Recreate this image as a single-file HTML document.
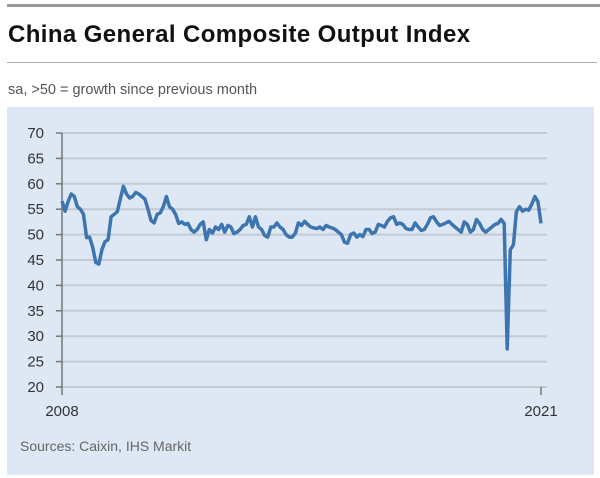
<!DOCTYPE html>
<html><head><meta charset="utf-8"><style>
body{margin:0;width:600px;height:478px;background:#fff;font-family:"Liberation Sans",sans-serif;position:relative;overflow:hidden}
.a{position:absolute}
</style></head><body>
<div class="a" style="left:7px;top:4px;width:593px;height:3px;background:#999"></div>
<div class="a" style="left:8px;top:21px;font-size:24px;font-weight:bold;color:#111;letter-spacing:0.4px">China General Composite Output Index</div>
<div class="a" style="left:7px;top:62px;width:590px;height:1px;background:#aaa"></div>
<div class="a" style="left:8px;top:82px;font-size:14.5px;color:#555">sa, &gt;50 = growth since previous month</div>
<div class="a" style="left:7px;top:107px;width:587px;height:368px;background:#dde8f4"></div>
<svg class="a" style="left:0;top:0" width="600" height="478">
<g id="grid"></g><g id="axes"></g><path id="line" fill="none" stroke="#3d75b0" stroke-width="3.5" stroke-linejoin="round"></path>
<text x="20" y="451" font-size="14" fill="#666">Sources: Caixin, IHS Markit</text>
</svg>
<script>
const yTicks=[20,25,30,35,40,45,50,55,60,65,70];
const xLabels=["2008","2021"];
const values=[56.6,54.6,56.5,58,57.5,55.5,55,54,49.4,49.5,47.5,44.5,44.2,47,48.6,49,53.5,54,54.5,57,59.5,58,57.2,57.5,58.3,58,57.5,57,55,52.8,52.3,54,54.3,55.5,57.5,55.5,55,54,52.2,52.5,52,52.2,51,50.5,51,52,52.5,49,51,50.3,51.5,51,52,50.5,51.8,51.5,50.2,50.5,51,51.8,52,53.5,51.5,53.5,51.5,51,49.8,49.5,51.5,51.5,52.3,51.5,51,50,49.5,49.5,50.3,52.3,51.8,52.6,52,51.5,51.3,51.2,51.5,51,51.8,51.5,51.3,51,50.5,50,48.5,48.3,50,50.3,49.5,50,49.6,51,51,50.2,50.5,52,51.8,51.5,52.6,53.3,53.5,52,52.3,52,51.2,51,51,52.3,51.5,50.8,51,52,53.3,53.5,52.5,51.8,52,52.3,52.6,52,51.5,51,50.5,52.5,52,50.5,51,53,52.2,51,50.5,51,51.5,52,52.2,53,52.2,27.5,47,48,54.5,55.5,54.6,55,54.8,56,57.5,56.5,52.2];
const NS='http://www.w3.org/2000/svg';
const x0=62,x1=541,yTop=133,yBot=387;
const xs=i=>x0+(x1-x0)*i/(values.length-1);
const ys=v=>yBot-(v-20)/50*(yBot-yTop);
const grid=document.getElementById('grid'),axes=document.getElementById('axes');
function mk(t,a,p){const e=document.createElementNS(NS,t);for(const k in a)e.setAttribute(k,a[k]);p.appendChild(e);return e;}
yTicks.forEach(v=>{
 const g=mk('line',{x1:x0,x2:547,y1:ys(v),y2:ys(v),stroke:'#c4cad2','stroke-width':2},grid);
 
 
 const tk=mk('line',{x1:x0-6,x2:x0,y1:ys(v),y2:ys(v),stroke:'#777','stroke-width':1.5},axes);
 
 
 const t=mk('text',{x:44,y:ys(v)+5,'text-anchor':'end','font-size':15,fill:'#333'},axes);
 t.textContent=v;
 
 
});
const ax=mk('line',{x1:x0,x2:x0,y1:yTop,y2:yBot,stroke:'#777','stroke-width':1.5},axes);


xLabels.forEach((l,k)=>{
 const xp=k===0?x0:x1;
 const tk=mk('line',{x1:xp,x2:xp,y1:yBot,y2:yBot+8,stroke:'#777','stroke-width':1.5},axes);
 
 
 const t=mk('text',{x:xp,y:416,'text-anchor':'middle','font-size':15,fill:'#333'},axes);
 t.textContent=l;
 
 
});
document.getElementById('line').setAttribute('d',values.map((v,i)=>(i?'L':'M')+xs(i).toFixed(1)+' '+ys(v).toFixed(1)).join(''));
</script>
</body></html>
